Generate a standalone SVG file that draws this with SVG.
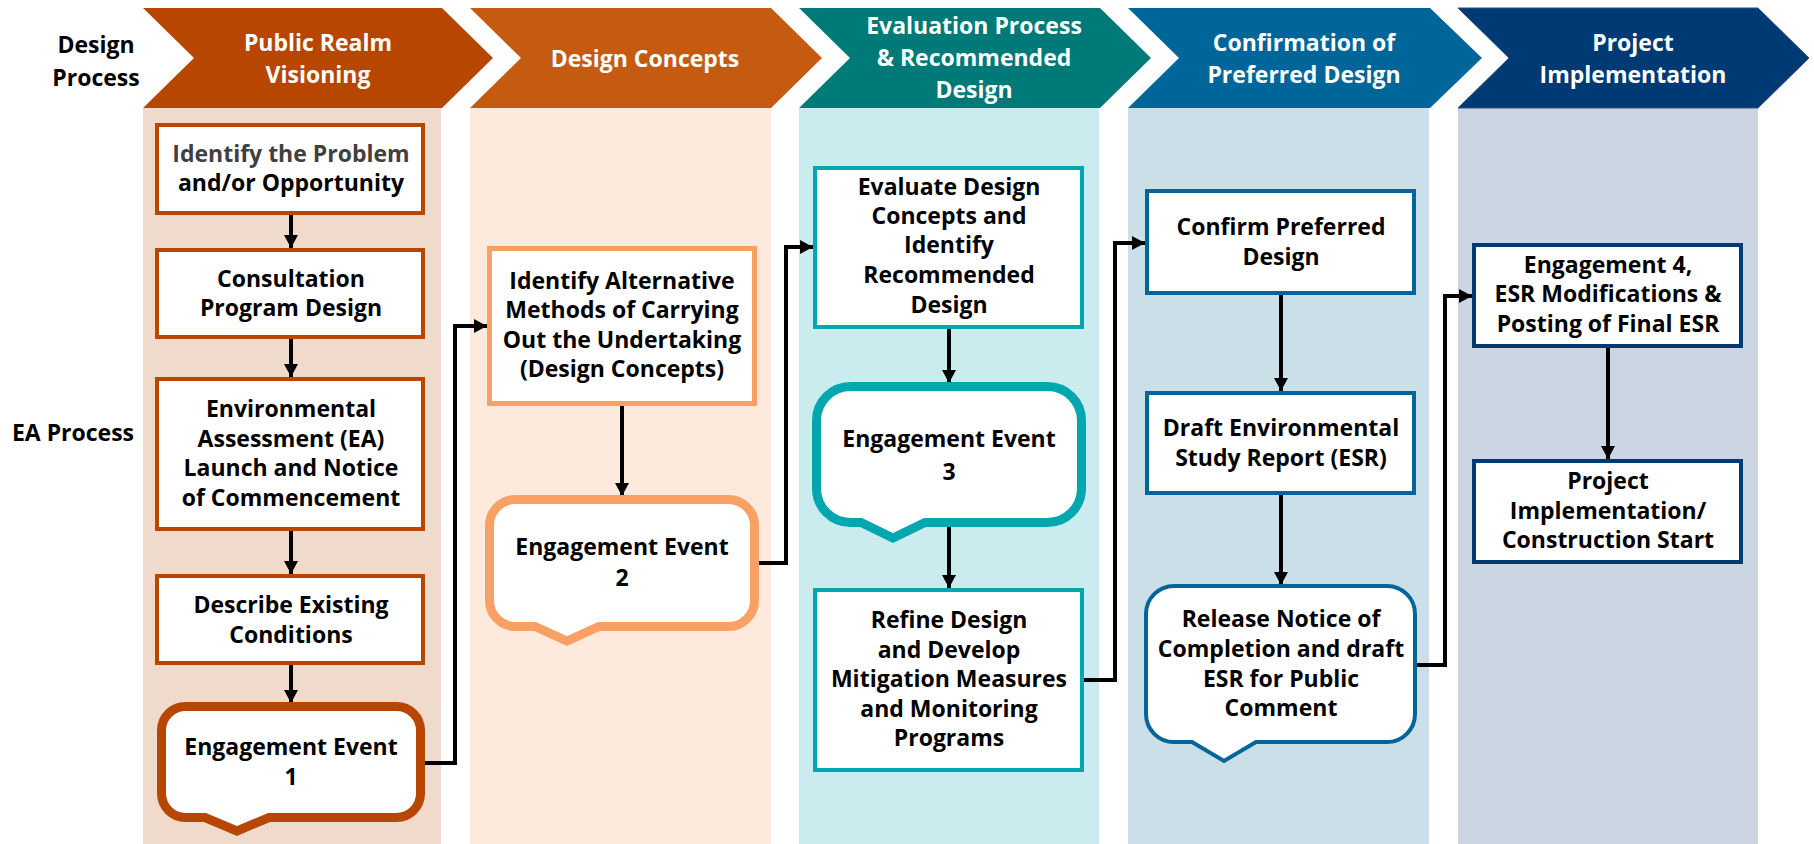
<svg xmlns="http://www.w3.org/2000/svg" width="1814" height="844" viewBox="0 0 1814 844">
<style>
text{font-family:"Open Sans",Lato,"Liberation Sans",sans-serif;font-weight:bold;font-size:23px;text-anchor:middle;fill:#000}
.hd{fill:#fff}
.box{fill:#fff;stroke-width:4}
.ee{fill:#fff;stroke-width:9;stroke-linejoin:miter}
.c1{stroke:#B64600}.c2{stroke:#F9A064}.c3{stroke:#00A7AF}.c4{stroke:#00669A}.c5{stroke:#003A75}
.con{fill:none;stroke:#000;stroke-width:4}
</style>
<defs>
<marker id="ah" markerUnits="userSpaceOnUse" markerWidth="14" markerHeight="14" refX="13" refY="7" orient="auto">
<path d="M0,0 L13,7 L0,14 Z" fill="#000"/>
</marker>
</defs>
<g id="lanes">
<rect x="143" y="108" width="298" height="736" fill="#F0DACB"/>
<rect x="470" y="108" width="301" height="736" fill="#FDEADC"/>
<rect x="799" y="108" width="300" height="736" fill="#CAECEE"/>
<rect x="1128" y="108" width="301" height="736" fill="#CADFE8"/>
<rect x="1458" y="108" width="300" height="736" fill="#CCD6E3"/>
</g>
<g id="headers">
<g id="h1"><polygon points="143,8 442,8 493,58 442,108 143,108 194,58" fill="#B64600"/>
<text class="hd" x="318" y="51">Public Realm</text><text class="hd" x="318" y="83">Visioning</text></g>
<g id="h2"><polygon points="470,8 771,8 822,58 771,108 470,108 521,58" fill="#C55A11"/>
<text class="hd" x="645" y="67">Design Concepts</text></g>
<g id="h3"><polygon points="799,8 1100,8 1151,58 1100,108 799,108 850,58" fill="#007979"/>
<text class="hd" x="974" y="34">Evaluation Process</text><text class="hd" x="974" y="66">&amp; Recommended</text><text class="hd" x="974" y="98">Design</text></g>
<g id="h4"><polygon points="1128,8 1430,8 1482,58 1430,108 1128,108 1179,58" fill="#006699"/>
<text class="hd" x="1304" y="51">Confirmation of</text><text class="hd" x="1304" y="83">Preferred Design</text></g>
<g id="h5"><polygon points="1458,8 1758,8 1809,58 1758,108 1458,108 1509,58" fill="#003A75" stroke="#2F4F7F" stroke-width="1"/>
<text class="hd" x="1633" y="51">Project</text><text class="hd" x="1633" y="83">Implementation</text></g>
</g>
<g id="row-labels">
<text x="96" y="53">Design</text><text x="96" y="86">Process</text>
<text x="73" y="441">EA Process</text>
</g>
<g id="connectors">
<line class="con" x1="291" y1="215" x2="291" y2="248" marker-end="url(#ah)"/>
<line class="con" x1="291" y1="339" x2="291" y2="377" marker-end="url(#ah)"/>
<line class="con" x1="291" y1="531" x2="291" y2="574" marker-end="url(#ah)"/>
<line class="con" x1="291" y1="665" x2="291" y2="703" marker-end="url(#ah)"/>
<path class="con" d="M425,763 H455 V326 H487" marker-end="url(#ah)"/>
<line class="con" x1="622" y1="406" x2="622" y2="496" marker-end="url(#ah)"/>
<path class="con" d="M759,563 H786 V247 H813" marker-end="url(#ah)"/>
<line class="con" x1="949" y1="329" x2="949" y2="383" marker-end="url(#ah)"/>
<line class="con" x1="949" y1="526" x2="949" y2="588" marker-end="url(#ah)"/>
<path class="con" d="M1084,680 H1115 V243 H1145" marker-end="url(#ah)"/>
<line class="con" x1="1281" y1="295" x2="1281" y2="391" marker-end="url(#ah)"/>
<line class="con" x1="1281" y1="495" x2="1281" y2="585" marker-end="url(#ah)"/>
<path class="con" d="M1417,665 H1445 V296 H1472" marker-end="url(#ah)"/>
<line class="con" x1="1608" y1="348" x2="1608" y2="459" marker-end="url(#ah)"/>
</g>
<g id="n-identify">
<rect class="box c1" x="157" y="125" width="266" height="88"/>
<text x="291" y="162" style="fill:#404040">Identify the Problem</text><text x="291" y="191">and/or Opportunity</text>
</g>
<g id="n-consultation">
<rect class="box c1" x="157" y="250" width="266" height="87"/>
<text x="291" y="287">Consultation</text><text x="291" y="316">Program Design</text>
</g>
<g id="n-ea-launch">
<rect class="box c1" x="157" y="379" width="266" height="150"/>
<text x="291" y="417">Environmental</text><text x="291" y="447">Assessment (EA)</text><text x="291" y="476">Launch and Notice</text><text x="291" y="506">of Commencement</text>
</g>
<g id="n-existing">
<rect class="box c1" x="157" y="576" width="266" height="87"/>
<text x="291" y="613">Describe Existing</text><text x="291" y="643">Conditions</text>
</g>
<g id="n-ee1">
<path class="ee c1" d="M185.5,706.5 H396.5 A24,24 0 0 1 420.5,730.5 V793.5 A24,24 0 0 1 396.5,817.5 H269 L237,831 L205,817.5 H185.5 A24,24 0 0 1 161.5,793.5 V730.5 A24,24 0 0 1 185.5,706.5 Z"/>
<text x="291" y="755">Engagement Event</text><text x="291" y="785">1</text>
</g>
<g id="n-alternatives">
<rect class="box c2" x="489.5" y="248.5" width="265" height="155" style="stroke-width:5"/>
<text x="622" y="289">Identify Alternative</text><text x="622" y="318">Methods of Carrying</text><text x="622" y="348">Out the Undertaking</text><text x="622" y="377">(Design Concepts)</text>
</g>
<g id="n-ee2">
<path class="ee c2" d="M515.5,499.5 H728.5 A26,26 0 0 1 754.5,525.5 V600.5 A26,26 0 0 1 728.5,626.5 H599 L567,641 L535,626.5 H515.5 A26,26 0 0 1 489.5,600.5 V525.5 A26,26 0 0 1 515.5,499.5 Z"/>
<text x="622" y="555">Engagement Event</text><text x="622" y="586">2</text>
</g>
<g id="n-evaluate">
<rect class="box c3" x="815" y="168" width="267" height="159"/>
<text x="949" y="195">Evaluate Design</text><text x="949" y="224">Concepts and</text><text x="949" y="253">Identify</text><text x="949" y="283">Recommended</text><text x="949" y="313">Design</text>
</g>
<g id="n-ee3">
<path class="ee c3" d="M850.5,386.5 H1047.5 A34,34 0 0 1 1081.5,420.5 V488.5 A34,34 0 0 1 1047.5,522.5 H925 L893,538 L861,522.5 H850.5 A34,34 0 0 1 816.5,488.5 V420.5 A34,34 0 0 1 850.5,386.5 Z"/>
<text x="949" y="447">Engagement Event</text><text x="949" y="480">3</text>
</g>
<g id="n-refine">
<rect class="box c3" x="815" y="590" width="267" height="180"/>
<text x="949" y="628">Refine Design</text><text x="949" y="658">and Develop</text><text x="949" y="687">Mitigation Measures</text><text x="949" y="717">and Monitoring</text><text x="949" y="746">Programs</text>
</g>
<g id="n-confirm">
<rect class="box c4" x="1147" y="191" width="267" height="102"/>
<text x="1281" y="235">Confirm Preferred</text><text x="1281" y="265">Design</text>
</g>
<g id="n-draft-esr">
<rect class="box c4" x="1147" y="393" width="267" height="100"/>
<text x="1281" y="436">Draft Environmental</text><text x="1281" y="466">Study Report (ESR)</text>
</g>
<g id="n-release">
<path class="ee c4" style="stroke-width:4" d="M1174,586 H1387 A28,28 0 0 1 1415,614 V714 A28,28 0 0 1 1387,742 H1256 L1224,761 L1192,742 H1174 A28,28 0 0 1 1146,714 V614 A28,28 0 0 1 1174,586 Z"/>
<text x="1281" y="627">Release Notice of</text><text x="1281" y="657">Completion and draft</text><text x="1281" y="687">ESR for Public</text><text x="1281" y="716">Comment</text>
</g>
<g id="n-engagement4">
<rect class="box c5" x="1474" y="245" width="267" height="101"/>
<text x="1608" y="273">Engagement 4,</text><text x="1608" y="302">ESR Modifications &amp;</text><text x="1608" y="332">Posting of Final ESR</text>
</g>
<g id="n-implementation">
<rect class="box c5" x="1474" y="461" width="267" height="101"/>
<text x="1608" y="489">Project</text><text x="1608" y="519">Implementation/</text><text x="1608" y="548">Construction Start</text>
</g>
</svg>
